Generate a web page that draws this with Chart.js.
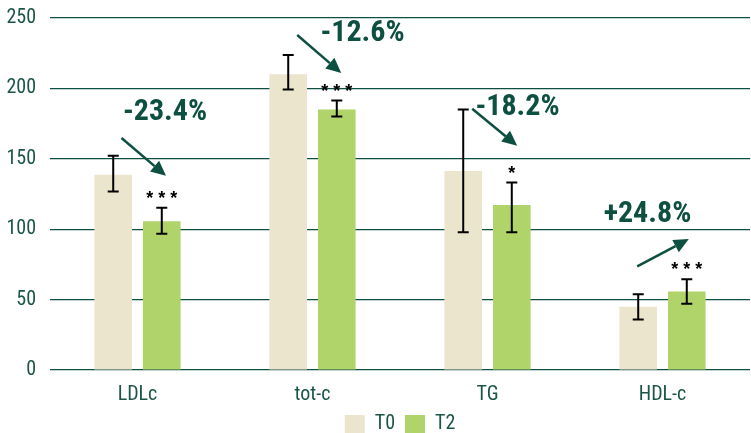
<!DOCTYPE html>
<html>
<head>
<meta charset="utf-8">
<script src="https://cdn.jsdelivr.net/npm/chart.js@4"></script>
<style>
  body { margin: 0; background: #fff; }
  canvas { display: block; }
</style>
</head>
<body>
<canvas id="lipids" width="751" height="433"></canvas>
<script>
// values (mg/dL)
const categories = ['LDLc', 'tot-c', 'TG', 'HDL-c'];
const t0Values = [138.6, 210, 141.4, 45];
const t2Values = [105.7, 185, 117.1, 55.7];
const t0ErrLow = [126.7, 199.3, 97.9, 35.9];
const t0ErrHigh = [152.1, 223.8, 185, 53.8];
const t2ErrLow = [96.7, 180, 97.9, 47.1];
const t2ErrHigh = [115.2, 191.4, 133.1, 64.5];
const yTicks = [0, 50, 100, 150, 200, 250];
const changeLabels = ['-23.4%', '-12.6%', '-18.2%', '+24.8%'];
const signifLabels = ['* * *', '* * *', '*', '* * *'];

const narrow = "'Roboto Condensed', sans-serif";
const green = '#0d4f40';
const textGreen = '#1b5548';

// arrow placement: x as pixel offset from category centre, y in axis units
const arrowSpots = [
    { from: [-16, 164.8], to: [28.5, 137.9], label: [27.5, 183] },
    { from: [-15.3, 237.9], to: [28.7, 211], label: [50, 239] },
    { from: [-15.3, 185.5], to: [29.7, 159.3], label: [30, 186.6] },
    { from: [-25.3, 73.6], to: [26.3, 93], label: [-15, 110.5] }
];

const errorBars = {
    id: 'errorBars',
    afterDatasetsDraw(chart) {
        const ctx = chart.ctx;
        const y = chart.scales.y;
        const ranges = [[t0ErrLow, t0ErrHigh], [t2ErrLow, t2ErrHigh]];
        ctx.save();
        ctx.strokeStyle = '#000';
        ctx.lineWidth = 2;
        ranges.forEach((r, i) => {
            chart.getDatasetMeta(i).data.forEach((bar, j) => {
                const lo = y.getPixelForValue(r[0][j]);
                const hi = y.getPixelForValue(r[1][j]);
                ctx.beginPath();
                ctx.moveTo(bar.x, lo); ctx.lineTo(bar.x, hi);
                ctx.moveTo(bar.x - 5.5, lo); ctx.lineTo(bar.x + 5.5, lo);
                ctx.moveTo(bar.x - 5.5, hi); ctx.lineTo(bar.x + 5.5, hi);
                ctx.stroke();
            });
        });
        ctx.restore();
    }
};

const changeArrows = {
    id: 'changeArrows',
    afterDraw(chart) {
        const ctx = chart.ctx;
        const xs = chart.scales.x, ys = chart.scales.y;
        ctx.save();
        // significance stars above T2 error bars
        ctx.fillStyle = '#000';
        ctx.font = "bold 18px 'Liberation Sans', Arial, sans-serif";
        ctx.textAlign = 'center';
        ctx.textBaseline = 'alphabetic';
        chart.getDatasetMeta(1).data.forEach((bar, j) => {
            ctx.fillText(signifLabels[j], bar.x, ys.getPixelForValue(t2ErrHigh[j]) - 4);
        });
        arrowSpots.forEach((a, j) => {
            const cx = xs.getPixelForValue(j);
            const x1 = cx + a.from[0], y1 = ys.getPixelForValue(a.from[1]);
            const x2 = cx + a.to[0], y2 = ys.getPixelForValue(a.to[1]);
            const ang = Math.atan2(y2 - y1, x2 - x1);
            const head = 15, half = 7;
            const bx = x2 - head * Math.cos(ang), by = y2 - head * Math.sin(ang);
            ctx.strokeStyle = green;
            ctx.fillStyle = green;
            ctx.lineWidth = 2.5;
            ctx.beginPath();
            ctx.moveTo(x1, y1);
            ctx.lineTo(bx, by);
            ctx.stroke();
            ctx.beginPath();
            ctx.moveTo(x2, y2);
            ctx.lineTo(bx + half * Math.sin(ang), by - half * Math.cos(ang));
            ctx.lineTo(bx - half * Math.sin(ang), by + half * Math.cos(ang));
            ctx.closePath();
            ctx.fill();
            ctx.font = 'bold 30px ' + narrow;
            ctx.textBaseline = 'middle';
            ctx.fillText(changeLabels[j], cx + a.label[0], ys.getPixelForValue(a.label[1]));
            ctx.textBaseline = 'alphabetic';
        });
        ctx.restore();
    }
};

new Chart(document.getElementById('lipids'), {
    type: 'bar',
    data: {
        labels: categories,
        datasets: [{
            label: 'T0',
            data: t0Values,
            backgroundColor: '#ebe5cd'
        }, {
            label: 'T2',
            data: t2Values,
            backgroundColor: '#b1d46a'
        }]
    },
    options: {
        responsive: false,
        animation: false,
        categoryPercentage: 0.555,
        barPercentage: 0.775,
        layout: { padding: { top: 18, right: 1, bottom: -11, left: 0 } },
        scales: {
            x: {
                grid: { display: false },
                border: { display: false },
                ticks: { color: textGreen, font: { size: 20, family: narrow }, padding: 5 },
                afterFit(s) { s.height = 34; }
            },
            y: {
                min: 0,
                max: 250,
                afterBuildTicks(s) { s.ticks = yTicks.map(v => ({ value: v })); },
                grid: { color: green, lineWidth: 1.2, drawTicks: false },
                border: { display: false },
                ticks: { color: textGreen, font: { size: 20, family: narrow }, padding: 14 },
                afterFit(s) { s.width = 50; s.paddingTop = 0; s.paddingBottom = 0; }
            }
        },
        plugins: {
            legend: {
                position: 'bottom',
                fullSize: false,
                labels: {
                    boxWidth: 20,
                    boxHeight: 18,
                    padding: 10,
                    color: textGreen,
                    font: { size: 20, family: narrow }
                }
            },
            tooltip: { enabled: false }
        }
    },
    plugins: [errorBars, changeArrows]
});
</script>
</body>
</html>
